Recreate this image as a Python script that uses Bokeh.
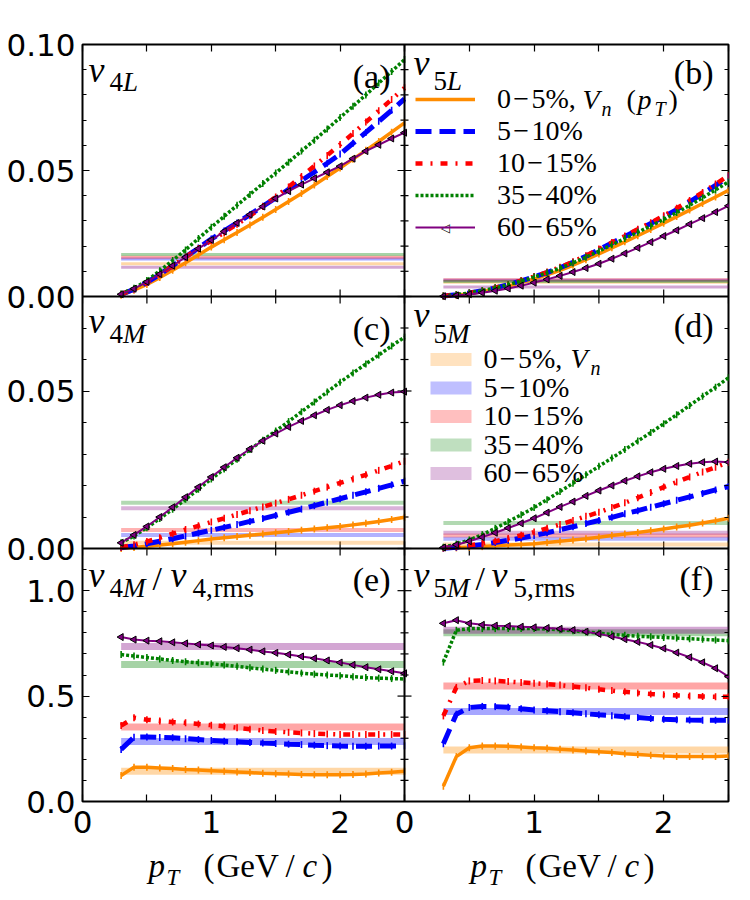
import numpy as np
from bokeh.plotting import figure
from bokeh.models import (Label, FixedTicker, LinearAxis, Range1d, Legend,
                          LegendItem, BoxAnnotation, Span)
from bokeh.layouts import column
from bokeh.embed import file_html
from bokeh.resources import INLINE

# ---------------- data ----------------
pt = [0.3, 0.4, 0.5, 0.6, 0.7, 0.8, 0.9, 1.0, 1.1, 1.2, 1.3, 1.4,
      1.5, 1.6, 1.7, 1.8, 1.9, 2.0, 2.1, 2.2, 2.3, 2.4, 2.5]

centralities = ["0\u200a\u2212\u200a5%,", "5\u200a\u2212\u200a10%", "10\u200a\u2212\u200a15%",
                "35\u200a\u2212\u200a40%", "60\u200a\u2212\u200a65%"]

# (a) v4L
a_c00 = [.0005, .0025, .0048, .0075, .0104, .0134, .0165, .0196, .0225, .0254, .0284, .0314,
         .0345, .0377, .0409, .0442, .0476, .0510, .0545, .0580, .0615, .0652, .0689]
a_c05 = [.0008, .0029, .0056, .0088, .0122, .0157, .0192, .0228, .0260, .0292, .0325, .0358,
         .0391, .0425, .0460, .0494, .0529, .0565, .0608, .0651, .0695, .0739, .0784]
a_c10 = [.0009, .0030, .0057, .0089, .0122, .0157, .0190, .0222, .0254, .0287, .0320, .0357,
         .0395, .0435, .0476, .0518, .0560, .0603, .0647, .0692, .0737, .0782, .0828]
a_c35 = [.0010, .0033, .0063, .0102, .0143, .0185, .0230, .0275, .0318, .0362, .0405, .0448,
         .0490, .0533, .0577, .0620, .0665, .0710, .0755, .0800, .0847, .0893, .0940]
a_c60 = [.0009, .0031, .0058, .0089, .0122, .0156, .0190, .0224, .0258, .0292, .0325, .0357,
         .0389, .0418, .0444, .0469, .0493, .0517, .0547, .0577, .0602, .0627, .0650]
a_band = [.0130, .0149, .0156, .0167, .0116]

# (b) v5L
b_c00 = [.0001, .0005, .0011, .0019, .0029, .0041, .0055, .0070, .0086, .0104, .0124, .0146,
         .0169, .0193, .0217, .0241, .0266, .0291, .0317, .0343, .0369, .0395, .0421]
b_c05 = [.0002, .0007, .0014, .0023, .0034, .0047, .0062, .0078, .0095, .0114, .0136, .0160,
         .0186, .0212, .0238, .0264, .0290, .0316, .0345, .0376, .0408, .0441, .0475]
b_c10 = [.0002, .0007, .0014, .0023, .0035, .0048, .0063, .0079, .0097, .0116, .0138, .0162,
         .0188, .0214, .0240, .0267, .0293, .0320, .0350, .0381, .0413, .0446, .0480]
b_c35 = [.0002, .0007, .0014, .0023, .0034, .0047, .0061, .0077, .0094, .0112, .0133, .0156,
         .0180, .0205, .0230, .0255, .0280, .0306, .0333, .0362, .0392, .0423, .0455]
b_c60 = [.0001, .0004, .0009, .0015, .0023, .0032, .0043, .0055, .0068, .0082, .0097, .0113,
         .0130, .0150, .0171, .0193, .0216, .0240, .0263, .0287, .0311, .0335, .0360]
b_band = [.0057, .0064, .0066, .0060, .0038]

# (c) v4M
c_c00 = [.0000, .0003, .0007, .0011, .0015, .0020, .0025, .0030, .0034, .0038, .0042, .0046,
         .0050, .0054, .0058, .0062, .0066, .0070, .0075, .0080, .0086, .0092, .0099]
c_c05 = [.0003, .0008, .0015, .0023, .0031, .0040, .0049, .0058, .0067, .0076, .0086, .0095,
         .0105, .0115, .0125, .0136, .0147, .0158, .0169, .0180, .0191, .0202, .0214]
c_c10 = [.0004, .0012, .0022, .0034, .0047, .0060, .0072, .0084, .0096, .0108, .0120, .0132,
         .0144, .0156, .0169, .0182, .0195, .0208, .0221, .0234, .0248, .0262, .0277]
c_c35 = [.0018, .0040, .0066, .0095, .0125, .0156, .0188, .0221, .0252, .0283, .0314, .0344,
         .0373, .0403, .0434, .0465, .0497, .0528, .0557, .0586, .0614, .0643, .0671]
c_c60 = [.0018, .0043, .0070, .0100, .0131, .0163, .0195, .0227, .0258, .0288, .0316, .0342,
         .0365, .0386, .0405, .0423, .0440, .0455, .0468, .0479, .0488, .0495, .0498]
c_band = [.0018, .0043, .0059, .0145, .0128]

# (d) v5M
d_c00 = [.0000, .0002, .0004, .0006, .0009, .0011, .0013, .0015, .0019, .0023, .0027, .0031,
         .0036, .0041, .0046, .0051, .0056, .0062, .0068, .0074, .0081, .0088, .0096]
d_c05 = [.0001, .0004, .0008, .0013, .0019, .0026, .0033, .0041, .0050, .0060, .0069, .0079,
         .0089, .0099, .0110, .0120, .0131, .0142, .0153, .0164, .0175, .0186, .0197]
d_c10 = [.0002, .0006, .0010, .0016, .0023, .0032, .0042, .0052, .0064, .0076, .0089, .0102,
         .0115, .0130, .0145, .0161, .0178, .0195, .0211, .0227, .0243, .0258, .0274]
d_c35 = [.0004, .0014, .0027, .0044, .0064, .0085, .0107, .0130, .0155, .0181, .0207, .0234,
         .0261, .0287, .0314, .0341, .0368, .0396, .0425, .0454, .0483, .0512, .0542]
d_c60 = [.0003, .0012, .0023, .0036, .0050, .0065, .0080, .0096, .0114, .0132, .0149, .0167,
         .0184, .0200, .0215, .0229, .0242, .0253, .0262, .0269, .0274, .0276, .0274]
d_band = [.0013, .0031, .0041, .0081, .0050]

# (e) v4M / v4,rms
e_c00 = [.123, .163, .162, .159, .156, .152, .149, .146, .143, .140, .137, .134,
         .132, .130, .128, .127, .127, .127, .128, .131, .135, .139, .143]
e_c05 = [.247, .305, .306, .304, .302, .298, .294, .289, .286, .283, .280, .277,
         .275, .272, .270, .267, .265, .263, .262, .262, .263, .263, .264]
e_c10 = [.360, .397, .388, .382, .377, .373, .368, .362, .357, .350, .343, .337,
         .332, .328, .325, .322, .320, .318, .318, .318, .318, .318, .318]
e_c35 = [.697, .690, .683, .676, .669, .663, .658, .653, .647, .641, .634, .628,
         .622, .615, .609, .604, .600, .597, .592, .588, .585, .583, .581]
e_c60 = [.780, .768, .763, .760, .755, .750, .745, .740, .733, .727, .720, .712,
         .705, .697, .688, .679, .669, .659, .648, .637, .627, .618, .608]
e_band = [.143, .285, .353, .650, .735]

# (f) v5M / v5,rms
f_c00 = [.072, .213, .255, .263, .263, .262, .259, .255, .252, .248, .244, .240,
         .236, .232, .227, .223, .219, .216, .214, .213, .213, .214, .216]
f_c05 = [.274, .414, .446, .451, .450, .447, .440, .434, .430, .426, .421, .416,
         .411, .407, .402, .398, .394, .390, .388, .386, .385, .385, .385]
f_c10 = [.406, .541, .572, .574, .572, .569, .565, .561, .557, .552, .546, .539,
         .532, .526, .520, .515, .510, .506, .503, .500, .498, .497, .497]
f_c35 = [.661, .812, .820, .820, .820, .820, .820, .820, .818, .815, .810, .804,
         .798, .793, .788, .784, .781, .778, .775, .772, .769, .766, .763]
f_c60 = [.845, .860, .845, .838, .834, .832, .829, .826, .823, .819, .813, .805,
         .795, .783, .770, .757, .742, .726, .706, .684, .660, .632, .592]
f_band = [.244, .427, .548, .800, .812]

x_end = 2.5
x_major = [0, 1, 2]
x_minor = [0.5, 1.5, 2.5]
x_labels = ["0", "1", "2"]
y_end = [0.10, 0.08, 1.2]
y_major = [[0.0, 0.05, 0.10], [0.0, 0.05], [0.0, 0.5, 1.0]]
y_labels = [["0.00", "0.05", "0.10"], ["0.00", "0.05"], ["0.0", "0.5", "1.0"]]
y_minor = [[0.01, 0.02, 0.03, 0.04, 0.06, 0.07, 0.08, 0.09],
           [0.01, 0.02, 0.03, 0.04, 0.06, 0.07, 0.08],
           [0.1, 0.2, 0.3, 0.4, 0.6, 0.7, 0.8, 0.9, 1.1, 1.2]]

# ---------------- layout / style ----------------
SERIF = "Liberation Serif"
SANS = "DejaVu Sans"
COLORS = ["#ff8c00", "#0000ff", "#ff0000", "#008000", "#800080"]
WIDTHS = [3.5, 5, 4.5, 3.5, 2]
DASHES = ["solid", "16 8", "7 8 2 8", "3 2", "solid"]

FL, FT = 82, 44            # frame left / top in the page
FW, FH = 646, 757          # frame size
COL_OFF, COL_W = [0, 322], [322, 324]
ROW_OFF, ROW_H = [505, 253, 0], [252, 252, 253]
FB = FT + FH               # frame bottom in page = 801
MAIN_H = 847

p = figure(width=750, height=MAIN_H, x_range=Range1d(0, FW), y_range=Range1d(0, FH),
           x_axis_location=None, y_axis_location=None,
           toolbar_location=None, output_backend="svg",
           min_border_left=FL, min_border_right=750 - FL - FW,
           min_border_top=FT, min_border_bottom=MAIN_H - FT - FH)
p.grid.visible = False
p.outline_line_color = "black"
p.outline_line_width = 2
p.background_fill_color = "white"
p.border_fill_color = "white"

p.extra_x_ranges = {
    f"x{c}": Range1d(-COL_OFF[c] * x_end / COL_W[c], (FW - COL_OFF[c]) * x_end / COL_W[c])
    for c in range(2)}
p.extra_y_ranges = {
    f"y{r}": Range1d(-ROW_OFF[r] * y_end[r] / ROW_H[r], (FH - ROW_OFF[r]) * y_end[r] / ROW_H[r])
    for r in range(3)}

# tick positions in frame pixels, derived from the panel scales
xt_major = [COL_OFF[c] + v / x_end * COL_W[c] for c in range(2) for v in x_major]
xt_minor = [COL_OFF[c] + v / x_end * COL_W[c] for c in range(2) for v in x_minor]
xt_labels = {xt_major[c * len(x_major) + i]: x_labels[i]
             for c in range(2) for i in range(len(x_major))}
yt_major, yt_minor, yt_labels = [], [], {}
for r in range(3):
    for v, s in zip(y_major[r], y_labels[r]):
        pos = ROW_OFF[r] + v / y_end[r] * ROW_H[r]
        yt_major.append(pos)
        yt_labels[pos] = s
    for v in y_minor[r]:
        yt_minor.append(ROW_OFF[r] + v / y_end[r] * ROW_H[r])


def style_axis(ax, show, minor_len):
    ax.axis_line_color = None
    ax.major_tick_in = 7
    ax.major_tick_out = 0
    ax.minor_tick_in = minor_len
    ax.minor_tick_out = 0
    ax.major_tick_line_color = "black"
    ax.minor_tick_line_color = "black"
    ax.major_tick_line_width = 1.2
    ax.minor_tick_line_width = 1.2
    if show:
        ax.major_label_text_font = SANS
        ax.major_label_text_font_size = "31px"
        ax.major_label_text_color = "black"
    else:
        ax.major_label_text_font_size = "0px"
        ax.major_label_text_color = None
        ax.major_label_standoff = 0


for side in ["below", "above"]:
    ax = LinearAxis(ticker=FixedTicker(ticks=xt_major, minor_ticks=xt_minor))
    style_axis(ax, side == "below", 7)
    if side == "below":
        ax.major_label_overrides = xt_labels
        ax.major_label_standoff = 9
    p.add_layout(ax, side)
for side in ["left", "right"]:
    ax = LinearAxis(ticker=FixedTicker(ticks=yt_major, minor_ticks=yt_minor))
    style_axis(ax, side == "left", 4)
    if side == "left":
        ax.major_label_overrides = yt_labels
        ax.major_label_standoff = 7
    p.add_layout(ax, side)

# panel separators with inward ticks on both sides
p.add_layout(Span(location=COL_OFF[1], dimension="height", line_color="black", line_width=2))
for r in (0, 1):
    p.add_layout(Span(location=ROW_OFF[r], dimension="width", line_color="black", line_width=2))
    p.scatter(xt_major + xt_minor, [ROW_OFF[r]] * (len(xt_major) + len(xt_minor)),
              marker="dash", angle=np.pi / 2, size=14, line_color="black", line_width=1.2)
p.scatter([COL_OFF[1]] * len(yt_major), yt_major, marker="dash", size=14,
          line_color="black", line_width=1.2)
p.scatter([COL_OFF[1]] * len(yt_minor), yt_minor, marker="dash", size=8,
          line_color="black", line_width=1.2)


def draw_panel(c, r, series, band, band_w, band_alpha):
    kw = dict(x_range_name=f"x{c}", y_range_name=f"y{r}")
    p.segment(x0=pt[0], x1=pt[-1], y0=band, y1=band, line_color=COLORS,
              line_alpha=band_alpha, line_width=band_w, line_cap="butt", **kw)
    rends = []
    for i, ys in enumerate(series):
        ln = p.line(pt, ys, line_color=COLORS[i], line_width=WIDTHS[i],
                    line_dash=DASHES[i], **kw)
        if i < 4:
            p.scatter(pt, ys, marker="dash", angle=np.pi / 2, size=7,
                      line_color=COLORS[i], line_width=1.6, **kw)
        else:
            p.scatter(pt, ys, marker="triangle", angle=np.pi / 2, size=7,
                      fill_color=COLORS[i], line_color="black", line_width=1, **kw)
        rends.append(ln)
    return rends


draw_panel(0, 0, [a_c00, a_c05, a_c10, a_c35, a_c60], a_band, 3, 0.35)
rb = draw_panel(1, 0, [b_c00, b_c05, b_c10, b_c35, b_c60], b_band, 3, 0.35)
draw_panel(0, 1, [c_c00, c_c05, c_c10, c_c35, c_c60], c_band, 4, 0.3)
draw_panel(1, 1, [d_c00, d_c05, d_c10, d_c35, d_c60], d_band, 4, 0.3)
draw_panel(0, 2, [e_c00, e_c05, e_c10, e_c35, e_c60], e_band, 7, 0.35)
draw_panel(1, 2, [f_c00, f_c05, f_c10, f_c35, f_c60], f_band, 7, 0.35)


def put(fig, X, Y, text, size, italic=False, align="left", left=FL, bottom=FB,
        font=SERIF, mid=False, color="black"):
    # (X, Y): page position of the text baseline start (or of its middle if mid)
    yc = Y if mid else Y - 0.34 * size
    fig.add_layout(Label(x=X - left, y=bottom - yc, x_units="screen", y_units="screen",
                         text=text, text_font=font, text_font_size=f"{size}px",
                         text_font_style="italic" if italic else "normal",
                         text_align=align, text_baseline="middle",
                         text_color=color))


# ---------------- panel titles ----------------
V, SUB, LET = 36, 27, 34
put(p, 88, 82, "v", V, True)
put(p, 109, 91, "4", SUB)
put(p, 122.5, 91, "L", SUB, True)
put(p, 390, 88, "(a)", LET, align="right")

put(p, 413, 75, "v", V, True)
put(p, 433, 90, "5", SUB)
put(p, 446.5, 90, "L", SUB, True)
put(p, 713, 84, "(b)", LET, align="right")

put(p, 88, 333, "v", V, True)
put(p, 109, 343, "4", SUB)
put(p, 122.5, 343, "M", SUB, True)
put(p, 390, 340, "(c)", LET, align="right")

put(p, 413, 327, "v", V, True)
put(p, 433, 343, "5", SUB)
put(p, 446.5, 343, "M", SUB, True)
put(p, 713, 337, "(d)", LET, align="right")

put(p, 88, 587, "v", V, True)
put(p, 109, 597, "4", SUB)
put(p, 122.5, 597, "M", SUB, True)
put(p, 152, 590, "/", LET)
put(p, 170, 587, "v", V, True)
put(p, 192, 597, "4,", SUB)
put(p, 213, 597, "rms", SUB)
put(p, 390, 591, "(e)", LET, align="right")

put(p, 413, 587, "v", V, True)
put(p, 433, 597, "5", SUB)
put(p, 446.5, 597, "M", SUB, True)
put(p, 475, 590, "/", LET)
put(p, 491, 587, "v", V, True)
put(p, 513, 597, "5,", SUB)
put(p, 534, 597, "rms", SUB)
put(p, 713, 590, "(f)", LET, align="right")

# ---------------- legend (b): curves ----------------
items = [LegendItem(label=centralities[i], renderers=[rb[i]]) for i in range(5)]
leg = Legend(items=items, location=(415 - FL, FB - 243), orientation="vertical",
             glyph_width=60, glyph_height=32, label_height=32, label_standoff=22,
             spacing=0, padding=0, margin=0,
             label_text_font=SERIF, label_text_font_size="28px",
             label_text_baseline="middle", label_text_color="black",
             background_fill_alpha=0, border_line_color=None)
p.add_layout(leg)
put(p, 445, 227, "\u25c1", 12, align="center", font=SANS, mid=True)
put(p, 582, 109, "V", 28, True)
put(p, 601, 115, "n", 20, True)
put(p, 626, 109, "(", 28)
put(p, 637, 109, "p", 28, True)
put(p, 654, 115, "T", 20, True)
put(p, 668, 109, ")", 28)

# ---------------- legend (d): bands ----------------
for i in range(5):
    base = 368 + 28.5 * i
    cy = base - 9
    p.add_layout(BoxAnnotation(left=430 - FL, right=471 - FL,
                               top=FB - (cy - 6.5), bottom=FB - (cy + 6.5),
                               left_units="screen", right_units="screen",
                               top_units="screen", bottom_units="screen",
                               fill_color=COLORS[i], fill_alpha=0.25, line_color=None))
    put(p, 483, base, centralities[i], 28)
put(p, 570, 368, "V", 28, True)
put(p, 590, 374, "n", 20, True)

# ---------------- x axis titles: p_T (GeV/c) ----------------
SH = 50
s = figure(width=750, height=SH, x_range=Range1d(0, FW), y_range=Range1d(0, SH),
           x_axis_location=None, y_axis_location=None,
           toolbar_location=None, output_backend="svg",
           min_border_left=FL, min_border_right=750 - FL - FW,
           min_border_top=0, min_border_bottom=0)
s.grid.visible = False
s.outline_line_color = None
s.border_fill_color = "white"
for c in range(2):
    dx = COL_OFF[c]
    kw = dict(left=FL, bottom=MAIN_H + SH)
    put(s, 148 + dx, 877, "p", 33, True, **kw)
    put(s, 166 + dx, 885, "T", 23, True, **kw)
    put(s, 203 + dx, 877, "(", 33, **kw)
    put(s, 216 + dx, 877, "GeV", 33, **kw)
    put(s, 285 + dx, 877, "/", 33, **kw)
    put(s, 302 + dx, 877, "c", 33, True, **kw)
    put(s, 321 + dx, 877, ")", 33, **kw)

layout = column(p, s)
open("out.html", "w").write(file_html(layout, INLINE))
